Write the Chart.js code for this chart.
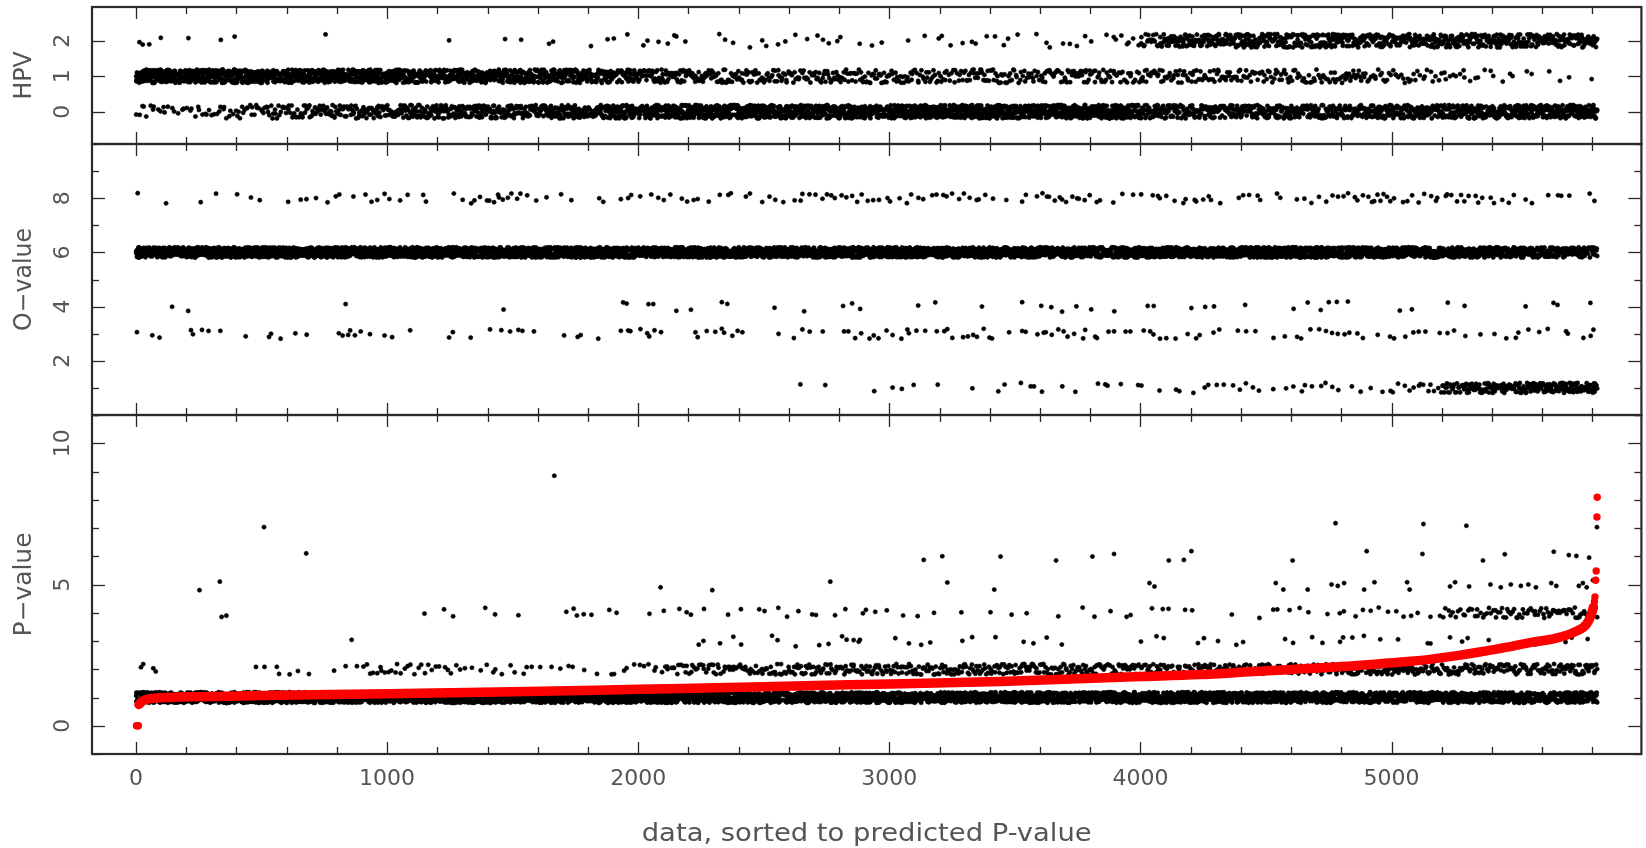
<!DOCTYPE html>
<html>
<head>
<meta charset="utf-8">
<script src="https://cdn.jsdelivr.net/npm/chart.js@4/dist/chart.umd.min.js"></script>
<style>
  html, body { margin: 0; padding: 0; background: #fff; }
  #wrap { position: relative; width: 1646px; height: 848px; }
  #wrap canvas { position: absolute; left: 0; top: 0; }
</style>
</head>
<body>
<div id="wrap">
  <canvas id="hpvPanel" width="1646" height="848"></canvas>
  <canvas id="oPanel" width="1646" height="848"></canvas>
  <canvas id="pPanel" width="1646" height="848"></canvas>
</div>
<script>
// Records are sorted by predicted P-value; counts below are per block of 100 records.
const N_RECORDS = 5820;
const BIN_SIZE = 100;

// HPV class counts per block
const hpv0 = [10,8,10,12,16,20,24,28,30,32, 38,40,42,43,44,44,46,48,53,58, 65,68,72,73,76,76,78,74,78,76, 78,78,80,75,77,80,77,75,77,76, 50,42,42,40,44,42,45,44,42,46, 48,50,52,55,56,58,58,58,12];
const hpv1 = [85,90,88,86,82,80,75,71,70,68, 62,60,58,57,56,55,52,50,45,40, 32,28,25,24,22,22,20,22,20,22, 20,20,18,22,20,18,20,22,20,18, 20,18,18,20,16,18,15,16,18,14, 12,10,8,5,4,2,2,2,0];
const hpv2 = [4,0,1,2,0,0,0,1,0,0, 0,0,1,0,1,1,2,0,2,2, 3,4,0,3,2,3,2,4,2,2, 1,2,3,3,3,2,3,3,3,6, 25,38,40,40,40,40,40,40,40,40, 40,40,40,40,40,40,40,40,8];

// O-value counts per block
const o1 = [0,0,0,0,0,0,0,0,0,0, 0,0,0,0,0,0,0,0,0,0, 0,0,0,0,0,0,1,1,0,1, 3,1,0,1,2,3,2,1,3,2, 2,2,3,4,3,2,4,4,2,3, 5,8,25,35,40,42,42,42,8];
const o3 = [3,0,4,1,1,3,2,0,6,2, 2,0,2,1,3,3,0,3,1,3, 5,0,3,5,1,1,3,1,4,4, 4,3,4,5,2,3,5,4,4,2, 4,3,3,2,2,2,3,4,4,2, 3,3,3,1,3,3,2,3,1];
const o4 = [0,1,1,0,0,0,0,0,1,0, 0,0,0,0,1,0,0,0,0,2, 2,1,1,2,0,1,1,0,3,0, 0,2,0,1,0,1,3,1,2,0, 2,0,3,0,1,0,2,3,1,0, 2,0,2,0,0,1,2,1,0];
const o6 = [96,98,94,98,96,97,95,97,91,94, 95,98,97,94,89,93,98,96,97,92, 90,95,93,90,96,95,91,93,88,91, 89,90,91,89,94,90,84,88,88,94, 88,91,86,92,90,94,88,85,88,87, 86,84,64,59,53,52,51,52,10];
const o8 = [1,1,1,1,3,0,3,3,2,4, 3,2,1,5,7,4,2,1,2,3, 3,4,3,3,3,3,4,5,5,4, 4,4,5,4,2,3,6,6,3,2, 4,4,5,2,4,2,3,4,5,8, 4,5,6,5,4,2,3,2,1];

// observed P-value counts per block (classes 1 to 4)
const p1 = [96,100,99,97,99,96,96,99,97,92, 92,92,92,95,95,95,96,93,96,95, 92,85,80,82,82,78,79,76,74,77, 77,74,77,79,75,77,76,79,76,78, 73,76,77,78,79,74,74,72,72,73, 72,71,64,62,62,61,58,58,11];
const p2 = [4,0,0,0,1,3,3,1,2,8, 8,7,6,4,4,4,3,3,2,4, 6,12,15,15,15,17,18,19,19,20, 20,20,20,20,20,20,20,20,20,20, 20,20,19,19,19,20,20,20,21,21, 22,22,22,22,22,22,22,22,5];
const p3 = [0,0,0,0,0,0,0,0,1,0, 0,0,0,0,0,0,0,0,0,0, 0,0,2,2,1,2,1,2,5,0, 2,2,1,1,1,2,2,0,0,0, 3,0,2,2,1,1,2,2,3,1, 1,2,2,2,0,1,2,2,0];
const p4 = [0,0,0,2,0,0,0,0,0,0, 0,1,2,1,1,1,0,4,2,1, 1,3,2,1,2,3,2,2,2,3, 1,2,1,0,2,1,1,1,2,2, 2,2,1,1,1,3,2,2,3,3, 3,3,10,12,14,14,16,16,3];

// individual records with observed P-value of 5 and above [record, plotted value]
const pHigh = [
  [253,4.8],[334,5.1],[510,7.03],[678,6.1],[1666,8.85],[2089,4.9],[2295,4.8],[2765,5.1],
  [3137,5.87],[3211,6.0],[3231,5.07],[3418,4.82],[3443,5.99],[3664,5.85],[3809,5.99],[3895,6.08],
  [4036,5.05],[4056,4.93],[4113,5.85],[4173,5.87],[4203,6.18],[4539,5.05],[4569,4.82],[4606,5.85],
  [4666,4.82],[4761,5.0],[4777,7.17],[4786,4.95],[4811,5.05],[4891,4.82],[4901,6.18],[4932,5.08],
  [5062,5.08],[5072,4.82],[5123,6.08],[5127,7.14],[5233,4.93],[5253,5.08],[5298,7.08],[5309,4.93],
  [5364,5.85],[5394,5.0],[5435,4.9],[5451,6.07],[5475,5.0],[5515,4.95],[5545,5.0],[5575,4.9],
  [5636,5.05],[5646,6.16],[5656,4.95],[5706,6.04],[5736,6.01],[5746,4.95],[5762,5.05],[5777,4.9],
  [5787,5.95],[5802,5.15],[5818,7.03]
];

// predicted P-value along the sorted records
const predX = [12,25,50,100,250,500,1000,1500,2000,2500,2839,3443,4000,4232,4449,4851,5027,5153,5424,5557,5656,5736,5777,5796,5804];
const predY = [0.75,0.87,0.95,0.99,1.03,1.07,1.13,1.2,1.29,1.38,1.45,1.57,1.74,1.81,1.92,2.12,2.25,2.35,2.72,2.95,3.1,3.35,3.6,3.95,4.2];
// predictions that stand apart from the main curve
const predSingleX = [2,6,10,5808,5810,5813,5815,5818,5819];
const predSingleY = [0,0,0,4.4,4.56,5.15,5.48,7.39,8.09];

// axis ticks
const xTicks = [0,1000,2000,3000,4000,5000];
const hpvTicks = [0,1,2];
const oTicks = [2,4,6,8];
const pTicks = [0,5,10];

// fixed scatter offsets used to spread records that share one class value
const JITTER = [
  0.62,-0.35,0.91,-0.78,0.14,-0.06,0.47,-0.93,0.28,0.83,
  -0.51,-0.19,0.71,-0.66,0.05,0.39,-0.87,0.58,-0.24,0.96,
  -0.42,0.17,-0.71,0.33,0.79,-0.12,-0.58,0.44,-0.97,0.09,
  0.66,-0.31,0.88,-0.45,0.21,-0.82,0.52,-0.03,0.74,-0.63,
  0.36,-0.16,0.98,-0.54,0.12,-0.89,0.49,0.27,-0.74,0.68,
  -0.38,0.03,-0.69,0.85,-0.22,0.41,-0.95,0.57,-0.09,0.31,
  -0.47,0.76,-0.28,0.93,-0.61,0.19,-0.84,0.45,0.07,-0.36,
  0.64,-0.99,0.24,-0.14,0.81,-0.53,0.37,-0.76,0.55,-0.01,
  0.72,-0.43,0.15,-0.91,0.61,-0.26,0.89,-0.67,0.30,-0.11,
  0.53,-0.80,0.01,0.86,-0.57,0.43,-0.33
];
const SPREAD = 0.19;

function spreadClass(counts, level, seed) {
  const out = [];
  const L = JITTER.length;
  counts.forEach((n, b) => {
    if (!n) return;
    const start = b * BIN_SIZE;
    const size = Math.min(BIN_SIZE, N_RECORDS - start);
    for (let k = 0; k < n; k++) {
      const jx = JITTER[(seed * 7 + b * 31 + k * 7) % L];
      const jy = JITTER[(seed * 17 + b * 29 + k * k * 3 + k * 37 + 3) % L];
      let xi = Math.round(start + (k + 0.5 + 0.45 * jx) * size / n);
      xi = Math.max(start, Math.min(start + size - 1, xi));
      out.push({ x: xi, y: level + SPREAD * jy });
    }
  });
  return out;
}

const FONT = '"DejaVu Sans", "Liberation Sans", sans-serif';
const INK = '#555555';

function fitText(ctx, text, cx, cy, width, angle, size) {
  ctx.save();
  ctx.font = size + 'px ' + FONT;
  ctx.textAlign = 'center';
  ctx.textBaseline = 'middle';
  ctx.translate(cx, cy);
  ctx.rotate(angle);
  const w = ctx.measureText(text).width;
  if (width) ctx.scale(width / w, 1);
  ctx.fillText(text, 0, 0);
  ctx.restore();
}

// boxed frame with inward ticks on all four sides, plus labels
const framePlugin = {
  id: 'frame',
  afterDraw(chart, args, o) {
    const { ctx, chartArea: a } = chart;
    const x = chart.scales.x, y = chart.scales.y;
    ctx.save();
    ctx.strokeStyle = '#262626';
    ctx.lineWidth = 1.3;
    const seg = (x1, y1, x2, y2) => { ctx.beginPath(); ctx.moveTo(x1, y1); ctx.lineTo(x2, y2); ctx.stroke(); };
    for (let v = 0; v <= 5800; v += 200) {
      const px = Math.round(x.getPixelForValue(v)) + 0.5;
      const len = xTicks.includes(v) ? 12 : 7;
      seg(px, a.top, px, a.top + len);
      seg(px, a.bottom, px, a.bottom - len);
    }
    for (let v = Math.ceil(y.min); v <= y.max; v += 1) {
      const major = o.major.includes(v);
      if (!major && !o.minor) continue;
      const py = Math.round(y.getPixelForValue(v)) + 0.5;
      const len = major ? 13 : 7;
      seg(a.left, py, a.left + len, py);
      seg(a.right, py, a.right - len, py);
    }
    ctx.lineWidth = 2.2;
    ctx.strokeStyle = '#2a2a2a';
    ctx.strokeRect(a.left, a.top, a.right - a.left, a.bottom - a.top);

    ctx.fillStyle = INK;
    o.major.forEach(v => {
      fitText(ctx, String(v), 63, y.getPixelForValue(v), 0, -Math.PI / 2, 22);
    });
    fitText(ctx, o.title, 25, (a.top + a.bottom) / 2, o.titleWidth, -Math.PI / 2, 24);
    if (o.xAxis) {
      xTicks.forEach(v => fitText(ctx, String(v), x.getPixelForValue(v), 779, 0, 0, 22));
      fitText(ctx, 'data, sorted to predicted P-value', (a.left + a.right) / 2, 835, 450, 0, 24);
    }
    ctx.restore();
  }
};

const blackStyle = {
  pointStyle: 'circle', pointRadius: 2.1, borderWidth: 0.6,
  borderColor: '#000', backgroundColor: '#000', order: 2
};

function makePanel(id, top, bottom, yMin, yMax, datasets, frame) {
  return new Chart(document.getElementById(id), {
    type: 'scatter',
    data: { datasets },
    options: {
      responsive: false,
      animation: false,
      events: [],
      layout: { padding: { left: 92, right: 3, top: top, bottom: 848 - bottom } },
      scales: {
        x: { type: 'linear', min: -175, max: 5995, display: false },
        y: { type: 'linear', min: yMin, max: yMax, display: false }
      },
      plugins: { legend: { display: false }, tooltip: { enabled: false }, frame }
    },
    plugins: [framePlugin]
  });
}

makePanel('hpvPanel', 7, 144, -0.91, 2.95, [
  Object.assign({ data: [].concat(spreadClass(hpv0, 0, 1), spreadClass(hpv1, 1, 2), spreadClass(hpv2, 2, 3)) }, blackStyle)
], { major: hpvTicks, minor: false, title: 'HPV', titleWidth: 48 });

makePanel('oPanel', 144, 415, 0, 10, [
  Object.assign({ data: [].concat(spreadClass(o1, 1, 4), spreadClass(o3, 3, 5), spreadClass(o4, 4, 6),
                                  spreadClass(o6, 6, 7), spreadClass(o8, 8, 8)) }, blackStyle)
], { major: oTicks, minor: true, title: 'O\u2212value', titleWidth: 103 });

const pObserved = [].concat(
  spreadClass(p1, 1, 9), spreadClass(p2, 2, 10), spreadClass(p3, 3, 11), spreadClass(p4, 4, 12),
  pHigh.map(([x, y]) => ({ x, y }))
);
makePanel('pPanel', 415, 754, -1, 11, [
  {
    type: 'line',
    data: predX.map((x, i) => ({ x, y: predY[i] })),
    borderColor: '#ff0000', borderWidth: 9.5, pointRadius: 0,
    borderCapStyle: 'round', borderJoinStyle: 'round',
    cubicInterpolationMode: 'monotone', fill: false, order: 0
  },
  {
    data: predSingleX.map((x, i) => ({ x, y: predSingleY[i] })),
    pointStyle: 'circle', pointRadius: 3.7, borderWidth: 0,
    backgroundColor: '#ff0000', order: 1
  },
  Object.assign({ data: pObserved }, blackStyle)
], { major: pTicks, minor: true, title: 'P\u2212value', titleWidth: 104, xAxis: true });
</script>
</body>
</html>
